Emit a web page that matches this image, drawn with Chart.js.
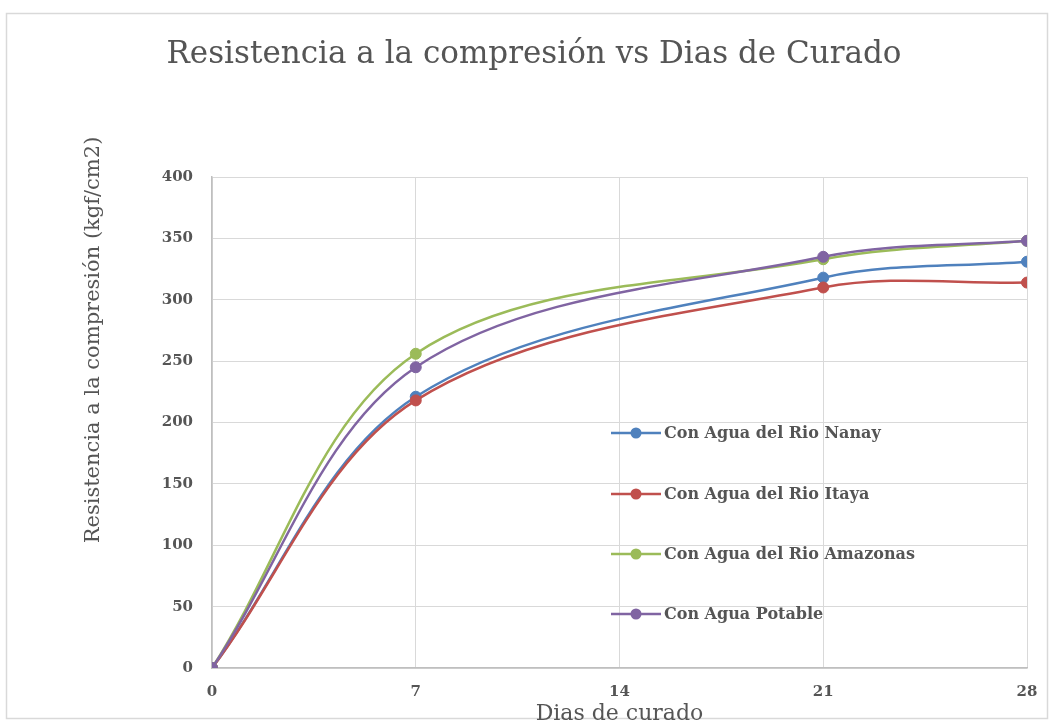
<!DOCTYPE html>
<html>
<head>
<meta charset="utf-8">
<title>Resistencia a la compresión vs Dias de Curado</title>
<script src="https://cdn.jsdelivr.net/npm/chart.js@4/dist/chart.umd.min.js"></script>
<style>
  html, body { margin: 0; padding: 0; background: #ffffff; }
  #wrap { width: 1054px; height: 725px; position: relative; }
</style>
</head>
<body>
<div id="wrap"><canvas id="c" width="1054" height="725"></canvas></div>
<script>
// Curing age (days) at which the specimens were tested
const days = [0, 7, 21, 28];
const xTicks = [0, 7, 14, 21, 28];

// Compressive strength (kgf/cm2) per mixing water source
const nanay    = [0, 221, 318, 331];
const itaya    = [0, 218, 310, 314];
const amazonas = [0, 256, 333, 348];
const potable  = [0, 245, 335, 348];

const seriesNames = [
  'Con Agua del Rio Nanay',
  'Con Agua del Rio Itaya',
  'Con Agua del Rio Amazonas',
  'Con Agua Potable'
];
const seriesColors = ['#4f81bd', '#c0504d', '#9bbb59', '#8064a2'];

const chartTitle = 'Resistencia a la compresión vs Dias de Curado';
const yTitle = 'Resistencia a la compresión (kgf/cm2)';
const xTitle = 'Dias de curado';

const textColor = '#555555';
const serif = '"DejaVu Serif", "Liberation Serif", serif';

const toPoints = vals => vals.map((v, i) => ({ x: days[i], y: v }));
const allSeries = [nanay, itaya, amazonas, potable];

const datasets = allSeries.map((vals, i) => ({
  label: seriesNames[i],
  data: toPoints(vals),
  borderColor: seriesColors[i],
  backgroundColor: seriesColors[i],
  pointBackgroundColor: seriesColors[i],
  pointBorderColor: seriesColors[i],
  pointRadius: 5.5,
  pointBorderWidth: 1,
  borderWidth: 2.5,
  tension: 0.34,
  fill: false,
  // later series are painted over earlier ones
  order: allSeries.length - i
}));

// Frame, chart title, vertical axis title and the in-plot legend
const decorations = {
  id: 'decorations',
  beforeDraw(chart) {
    const ctx = chart.ctx;
    ctx.save();
    ctx.fillStyle = '#ffffff';
    ctx.fillRect(0, 0, chart.width, chart.height);
    ctx.strokeStyle = '#d9d9d9';
    ctx.lineWidth = 1.5;
    ctx.strokeRect(6.5, 13.5, 1041, 705);
    ctx.restore();
  },
  afterDraw(chart) {
    const ctx = chart.ctx;
    ctx.save();
    ctx.fillStyle = textColor;

    // chart title
    ctx.font = '31px ' + serif;
    ctx.textAlign = 'center';
    ctx.textBaseline = 'middle';
    ctx.fillText(chartTitle, 534, 55);

    // vertical axis title
    ctx.save();
    ctx.translate(94, 340);
    ctx.rotate(-Math.PI / 2);
    ctx.font = '21px ' + serif;
    ctx.textAlign = 'center';
    ctx.textBaseline = 'middle';
    ctx.fillText(yTitle, 0, 0);
    ctx.restore();

    // legend inside the plot area
    const rows = [433, 494, 554, 614];
    ctx.font = 'bold 16px ' + serif;
    ctx.textAlign = 'left';
    ctx.textBaseline = 'middle';
    seriesNames.forEach((name, i) => {
      const y = rows[i];
      ctx.strokeStyle = seriesColors[i];
      ctx.lineWidth = 2.5;
      ctx.beginPath();
      ctx.moveTo(611, y);
      ctx.lineTo(661, y);
      ctx.stroke();
      ctx.fillStyle = seriesColors[i];
      ctx.beginPath();
      ctx.arc(636, y, 5.5, 0, Math.PI * 2);
      ctx.fill();
      ctx.fillStyle = textColor;
      ctx.fillText(name, 664, y + 1);
    });
    ctx.restore();
  }
};

new Chart(document.getElementById('c'), {
  type: 'line',
  data: { datasets },
  plugins: [decorations],
  options: {
    responsive: false,
    animation: false,
    devicePixelRatio: 1,
    layout: { padding: { left: 0, right: 27, top: 177, bottom: 0 } },
    plugins: {
      legend: { display: false },
      title: { display: false },
      tooltip: { enabled: false }
    },
    scales: {
      x: {
        type: 'linear',
        min: 0,
        max: 28,
        afterBuildTicks: scale => { scale.ticks = xTicks.map(v => ({ value: v })); },
        afterFit: scale => { scale.height = 57; },
        grid: { color: '#d9d9d9', lineWidth: 1, drawTicks: false },
        border: { color: '#bfbfbf', width: 1.5 },
        ticks: {
          padding: 15,
          color: textColor,
          font: { family: serif, size: 15, weight: 'bold' }
        },
        title: {
          display: true,
          text: xTitle,
          color: textColor,
          font: { family: serif, size: 22, lineHeight: 1 },
          padding: { top: 0, bottom: 0 }
        }
      },
      y: {
        type: 'linear',
        min: 0,
        max: 400,
        afterFit: scale => { scale.width = 212; },
        grid: { color: '#d9d9d9', lineWidth: 1, drawTicks: false },
        border: { color: '#bfbfbf', width: 1.5 },
        ticks: {
          stepSize: 50,
          padding: 19,
          color: textColor,
          font: { family: serif, size: 15, weight: 'bold' }
        }
      }
    }
  }
});
</script>
</body>
</html>
